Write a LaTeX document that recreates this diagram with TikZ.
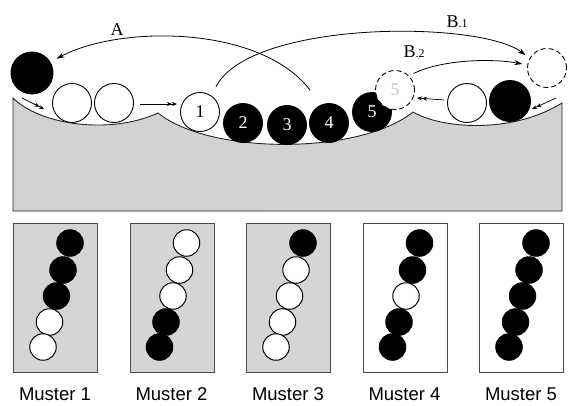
\documentclass[tikz,border=0pt]{standalone}
\usepackage{fontspec}
\setmainfont{Liberation Serif}
\newfontfamily\musterfont{Liberation Sans}
\usetikzlibrary{arrows.meta}
\definecolor{ground}{HTML}{D4D4D4}
\definecolor{hatch}{HTML}{CACACA}
\definecolor{boxgray}{HTML}{D5D5D5}
\definecolor{ghost}{HTML}{C8C8C8}
\begin{document}
\begin{tikzpicture}[x=1pt,y=-1pt,
  ball/.style={circle,draw=black,line width=0.9pt,inner sep=0pt,minimum size=39pt,font=\fontsize{18}{18}\selectfont},
  wball/.style={ball,fill=white},
  bball/.style={ball,fill=black,text=white},
  gball/.style={ball,fill=white,dash pattern=on 5pt off 3pt,text=ghost},
  sball/.style={circle,draw=black,line width=1pt,inner sep=0pt,minimum size=26.5pt},
  mbox/.style={draw=black!70,line width=0.8pt,minimum width=84pt,minimum height=149pt,inner sep=0pt,anchor=north west},
  mlabel/.style={font=\musterfont\fontsize{18.5}{18.5}\selectfont,inner sep=0pt},
  arcarrow/.style={line width=0.8pt,-{Stealth[length=8pt,width=5pt]}},
  dbl/.style={line width=0.7pt,-{Stealth[length=5pt,width=4pt]Stealth[length=5pt,width=4pt]}},
  lbl/.style={font=\fontsize{18}{18}\selectfont,inner sep=0pt}
]
\useasboundingbox (0,0) rectangle (568,405);

% ground block
\fill[ground] (13,98) .. controls (40,125) and (110,135) .. (158,113)
  .. controls (210,155) and (360,155) .. (413,112)
  .. controls (440,128) and (510,135) .. (562,103) -- (562,211) -- (13,211) -- cycle;
\begin{scope}
  \clip (13,98) .. controls (40,125) and (110,135) .. (158,113)
    .. controls (210,155) and (360,155) .. (413,112)
    .. controls (440,128) and (510,135) .. (562,103) -- (562,211) -- (13,211) -- cycle;
  \foreach \i in {-120,-116,...,570}
    \draw[hatch,line width=0.35pt] (\i,95) -- ++(120,120);
\end{scope}
\draw[black!85,line width=0.9pt] (13,98) .. controls (40,125) and (110,135) .. (158,113)
  .. controls (210,155) and (360,155) .. (413,112)
  .. controls (440,128) and (510,135) .. (562,103) -- (562,211) -- (13,211) -- cycle;

% balls
\node[bball,minimum size=42pt] (k0) at (32,73) {};
\node[wball] (w1) at (72,103) {};
\node[wball] (w2) at (114,103) {};
\node[wball] (b1) at (200,112) {1};
\node[bball] (b2) at (243,123) {2};
\node[bball] (b3) at (287,125) {3};
\node[bball] (b4) at (329,123) {4};
\node[bball] (b5) at (372,112) {5};
\node[gball] (g5) at (395,90) {5};
\node[wball] (w3) at (467,103) {};
\node[bball,minimum size=41pt] (k1) at (510,101) {};
\node[gball] (g0) at (547,68) {};

% long arrows
\coordinate (aS) at (310,90);
\draw[arcarrow,shorten >=7pt] (aS) .. controls (260,25) and (120,25) .. (k0.31);
\draw[arcarrow,shorten <=10pt,shorten >=5pt] (b1.55) .. controls (250,20) and (480,20) .. (g0.151);
\draw[arcarrow,shorten <=5pt,shorten >=5pt] (g5.45) .. controls (440,60) and (490,58) .. (g0.171);

% labels
\node[lbl] (lA) at (117,30) {A};
\node[lbl] (lB1) at (457,22) {B{\fontsize{12}{12}\selectfont.1}};
\node[lbl] (lB2) at (414,52) {B{\fontsize{12}{12}\selectfont.2}};

% short double arrows
\coordinate (s1a) at (22,98);  \coordinate (s1b) at (44,109);
\coordinate (s2a) at (140,104); \coordinate (s2b) at (177,104);
\coordinate (s3a) at (444,100); \coordinate (s3b) at (417,98);
\coordinate (s4a) at (556,98);  \coordinate (s4b) at (532,109);
\draw[dbl] (s1a) -- (s1b);
\draw[dbl] (s2a) -- (s2b);
\draw[dbl] (s3a) -- (s3b);
\draw[dbl] (s4a) -- (s4b);

% Muster panels
\foreach \i/\bg/\ca/\cb/\cc/\cd/\ce in {
  1/boxgray/black/black/black/white/white,
  2/boxgray/white/white/white/black/black,
  3/boxgray/black/white/white/white/white,
  4/white/black/black/white/black/black,
  5/white/black/black/black/black/black}{
  \pgfmathsetmacro\xl{13+(\i-1)*116.5}
  \node[mbox,fill=\bg] (m\i) at (\xl,223) {};
  \node[sball,fill=\ca] (m\i-1) at (\xl+57,243) {};
  \node[sball,fill=\cb] (m\i-2) at (\xl+50,270) {};
  \node[sball,fill=\cc] (m\i-3) at (\xl+43.5,296) {};
  \node[sball,fill=\cd] (m\i-4) at (\xl+36.5,322) {};
  \node[sball,fill=\ce] (m\i-5) at (\xl+30,347) {};
  \node[mlabel] (t\i) at (\xl+42,394) {Muster \i};
}
\end{tikzpicture}
\end{document}
